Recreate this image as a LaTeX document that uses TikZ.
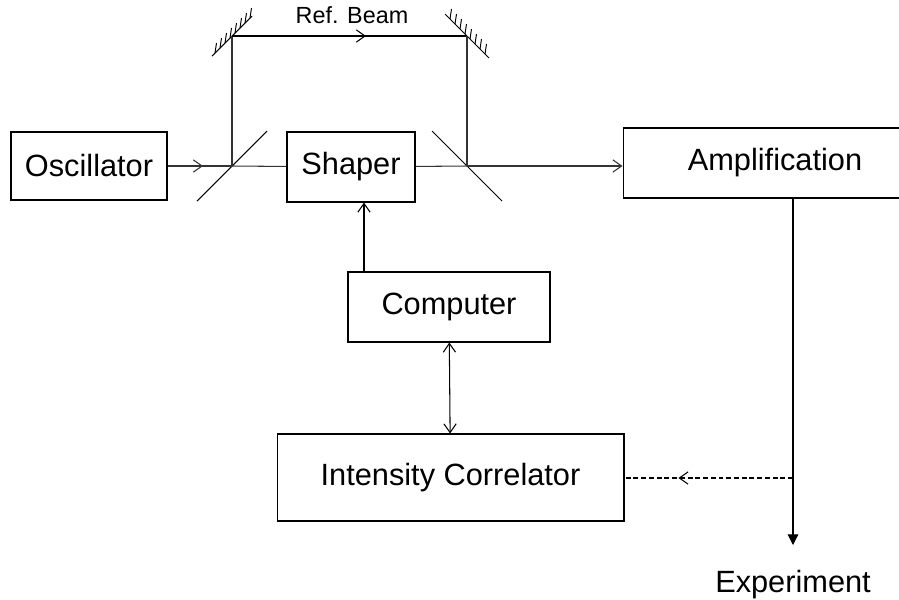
\documentclass[tikz,border=0pt]{standalone}
\usepackage{fontspec}
\setmainfont{Liberation Sans}
\usetikzlibrary{arrows.meta,decorations.markings,positioning}

\begin{document}
\begin{tikzpicture}[x=0.02cm,y=-0.02cm,line width=0.6pt,
        >={Straight Barb[length=5pt,width=7pt]},
        unit/.style={draw,inner sep=0pt,font=\fontsize{17.5}{21}\selectfont},
        beam/.style={draw=black!80},
        midarrow/.style={postaction={decorate},
            decoration={markings,mark=at position #1 with {\arrow{>}}}},
        hatch/.style={line width=0.55pt}]
    \useasboundingbox (0,0) rectangle (899,599);
    \clip (0,0) rectangle (899,599);

    % boxes
    \node[unit,minimum width=3.12cm,minimum height=1.36cm] (osc) at (89,166) {Oscillator};
    \node[unit,minimum width=2.56cm,minimum height=1.4cm] (shaper) at (351,167) {Shaper};
    \node[unit,minimum width=6.08cm,minimum height=1.4cm] (amp) at (775,163) {Amplification};
    \node[unit,minimum width=4.04cm,minimum height=1.4cm] (comp) at (449,307) {Computer};
    \node[unit,minimum width=6.94cm,minimum height=1.74cm] (corr) at (450.5,477.5) {Intensity Correlator};
    \node[font=\fontsize{17.5}{21}\selectfont] (exp) at (793,585) {Experiment};
    \node[font=\fontsize{13.3}{16}\selectfont] (ref) at (352,15) {Ref. Beam};

    % splitters and mirrors
    \coordinate (bs1) at (232,166);
    \coordinate (bs2) at (467,166);
    \coordinate (m1) at (232,36);
    \coordinate (m2) at (467,36);
    \coordinate (tap) at (793,478);
    \coordinate (out) at (793,545);
    \coordinate (ctl) at (364,272);

    \draw ([shift={(-35,35)}]bs1) -- ([shift={(35,-35)}]bs1);
    \draw ([shift={(-35,-35)}]bs2) -- ([shift={(35,35)}]bs2);
    \draw ([shift={(-20,20)}]m1) -- ([shift={(20,-20)}]m1);
    \draw ([shift={(-22,-22)}]m2) -- ([shift={(22,22)}]m2);
    \foreach \t in {-17,-12,...,18} {
        \draw[hatch] ([shift={(\t,-\t)}]m1) -- ++(1.5,-10);
        \draw[hatch] ([shift={(\t,\t)}]m2) -- ++(1.5,-10);
    }

    % beam path
    \draw[beam,midarrow=0.55] (osc) -- (bs1);
    \draw[beam] (bs1) -- (shaper);
    \draw[beam] (shaper) -- (bs2);
    \draw[beam,->] (bs2) -- (amp.west |- bs2);
    \draw[beam] (bs1) -- (m1);
    \draw[midarrow=0.57] (m1) -- (m2);
    \draw[beam] (m2) -- (bs2);

    % control and detection
    \draw[->] (comp.north -| ctl) -- (shaper.south -| ctl);
    \draw[<->] (comp) -- (corr);
    \draw[-{Triangle[length=6pt,width=6pt]}] (amp.south -| tap) -- (out);
    \draw[dashed,dash pattern=on 2.8pt off 1.6pt,midarrow=0.68] (tap) -- (corr.east |- tap);
\end{tikzpicture}
\end{document}
